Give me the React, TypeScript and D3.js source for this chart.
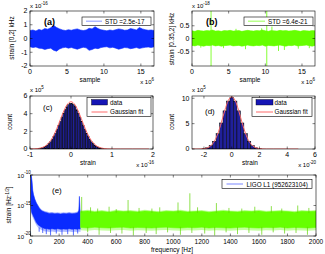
import React from 'react';
import * as d3 from 'd3';

const FONT = 'Liberation Sans, Arial, Helvetica, sans-serif';
const BLUE = '#0a2bff';
const GREEN = '#66ff00';
const RED = '#ff6a6a';
const BAR = '#20209a';

// ---------- (a) strain [0,2] kHz, x in 1e6 samples, y in 1e-16
const A_POS = d3.range(0, 16.81, 0.4);
const A_UPPER = [0.58,0.62,0.55,0.66,0.6,0.72,0.68,0.78,0.95,0.8,0.7,0.62,0.58,0.64,0.6,0.66,0.7,0.62,0.58,0.62,0.74,0.7,0.86,0.72,0.64,0.6,0.56,0.62,0.58,0.64,0.7,0.66,0.6,0.62,0.72,0.68,0.62,0.8,0.7,0.64,0.6,0.62,0.58];
const A_LOWER = [-0.6,-0.66,-0.62,-0.7,-0.72,-0.8,-0.74,-0.7,-0.86,-0.92,-0.76,-0.68,-0.64,-0.7,-0.66,-0.72,-0.78,-0.7,-0.64,-0.68,-0.86,-0.8,-0.7,-0.74,-0.66,-0.62,-0.6,-0.68,-0.64,-0.7,-0.78,-0.72,-0.66,-0.68,-0.74,-0.7,-0.66,-0.72,-0.68,-0.64,-0.62,-0.66,-0.6];
const A_XTICKS = [0, 5, 10, 15];
const A_YTICKS = [-2, -1, 0, 1, 2];

// ---------- (b) strain [0.35,2] kHz, y in 1e-18
const B_POS = d3.range(0, 16.81, 0.4);
const B_UPPER = [0.3,0.28,0.32,0.3,0.29,0.31,0.3,0.33,0.29,0.3,0.28,0.31,0.3,0.32,0.29,0.3,0.31,0.28,0.3,0.32,0.3,0.29,0.31,0.3,0.33,0.3,0.28,0.31,0.3,0.29,0.32,0.3,0.31,0.29,0.3,0.32,0.3,0.28,0.31,0.3,0.29,0.31,0.3];
const B_LOWER = [-0.27,-0.29,-0.26,-0.28,-0.3,-0.27,-0.28,-0.26,-0.29,-0.27,-0.3,-0.28,-0.27,-0.26,-0.29,-0.28,-0.27,-0.3,-0.28,-0.26,-0.28,-0.29,-0.27,-0.28,-0.26,-0.3,-0.27,-0.28,-0.29,-0.27,-0.26,-0.28,-0.3,-0.27,-0.28,-0.26,-0.29,-0.28,-0.27,-0.26,-0.28,-0.3,-0.27];
const B_SPIKE_X = [2.6, 10.2, 10.9, 11.8, 7.3, 4.3, 14.5, 9.5, 1.2, 6.0, 16.0, 12.6];
const B_SPIKE_LO = [-1.2, -1.2, -0.1, -0.49, -0.42, -0.38, -0.4, 0, -0.36, 0, -0.38, -0.45];
const B_SPIKE_HI = [1.2, 1.2, 0.47, 0.1, 0.1, 0, 0, 0.4, 0, 0.38, 0, 0.05];
const B_XTICKS = [0, 5, 10, 15];
const B_YTICKS = [-0.5, 0, 0.5];

// ---------- (c) histogram, x in 1e-16, counts in 1e5
const C_CENTERS = d3.range(-0.78, 0.79, 0.04);
const C_COUNTS = [0.06,0.09,0.14,0.21,0.3,0.43,0.6,0.81,1.08,1.4,1.77,2.19,2.65,3.12,3.6,4.05,4.46,4.78,5.01,5.13,5.14,5.02,4.79,4.44,4.05,3.6,3.12,2.64,2.19,1.77,1.4,1.08,0.81,0.6,0.43,0.3,0.21,0.14,0.09,0.06];
const C_FIT_X = [-1,-0.9,-0.8,-0.7,-0.6,-0.5,-0.4,-0.3,-0.2,-0.1,0,0.1,0.2,0.3,0.4,0.5,0.6,0.7,0.8,0.9,1,1.2,1.5,1.9];
const C_FIT_Y = [0.005,0.02,0.06,0.17,0.43,0.93,1.75,2.85,4.04,4.99,5.35,4.99,4.04,2.85,1.75,0.93,0.43,0.17,0.06,0.02,0.005,0,0,0];
const C_XTICKS = [-1, 0, 1, 2];
const C_YTICKS = [0, 2, 4, 6];

// ---------- (d) histogram, x in 1e-20, counts in 1e5
const D_CENTERS = d3.range(-2, 2.01, 0.25);
const D_COUNTS = [0.08,0.24,0.65,1.52,3.01,5.13,7.52,9.45,10.2,9.45,7.52,5.13,3.01,1.52,0.65,0.24,0.08];
const D_FIT_X = [-2.85,-2.5,-2.25,-2,-1.75,-1.5,-1.25,-1,-0.75,-0.5,-0.25,0,0.25,0.5,0.75,1,1.25,1.5,1.75,2,2.25,2.5,3,4,4.8];
const D_FIT_Y = [0,0,0.02,0.08,0.24,0.66,1.53,3.04,5.18,7.59,9.55,10.3,9.55,7.59,5.18,3.04,1.53,0.66,0.24,0.08,0.02,0,0,0,0];
const D_XTICKS = [-2, 0, 2, 4, 6];
const D_YTICKS = [0, 5, 10];

// ---------- (e) spectrum, log10 of strain per sqrt(Hz)
const E_BLUE_F = [0,3,6,10,15,20,25,30,40,50,60,70,80,90,100,115,130,150,170,190,210,230,250,270,290,310,330,338,342,346,350];
const E_BLUE_UP = [-10,-10,-10.3,-11,-12.5,-13.2,-13.6,-14,-14.6,-15,-15.4,-15.7,-15.9,-16.0,-16.1,-16.2,-16.3,-16.25,-16.35,-16.3,-16.4,-16.3,-16.35,-16.25,-16.35,-16.3,-16.2,-15.8,-13.5,-15.6,-16.3];
const E_BLUE_LO = [-14.5,-15.5,-16,-16.3,-16.5,-16.8,-17,-17.3,-17.8,-18.1,-18.3,-18.5,-18.6,-18.7,-18.8,-18.8,-18.9,-18.8,-18.9,-18.8,-18.9,-18.85,-18.9,-18.8,-18.9,-18.85,-18.9,-18.8,-18.9,-18.8,-18.9];
const E_BLUE_DOWN_F = [60,85,110,140,180,220,260,300,330];
const E_BLUE_DOWN = [-19.3,-19.5,-19.7,-19.9,-19.6,-19.8,-19.7,-19.9,-19.6];
const E_GREEN_F = d3.range(350, 2001, 50);
const E_GREEN_UP = [-16.0,-15.9,-16.05,-15.95,-16.1,-15.9,-16.0,-15.95,-16.05,-15.9,-16.0,-16.1,-15.95,-16.0,-15.9,-16.05,-16.0,-15.95,-16.1,-16.0,-15.9,-16.0,-16.05,-15.95,-16.0,-15.9,-16.05,-16.0,-15.95,-16.0,-16.1,-15.95,-16.0,-15.95];
const E_GREEN_LO = [-18.6,-18.7,-18.55,-18.65,-18.7,-18.6,-18.55,-18.7,-18.6,-18.65,-18.7,-18.6,-18.55,-18.65,-18.7,-18.6,-18.65,-18.55,-18.7,-18.6,-18.65,-18.7,-18.6,-18.55,-18.65,-18.7,-18.6,-18.65,-18.55,-18.7,-18.6,-18.65,-18.7,-18.6];
const E_GREEN_SPIKE_F = [358,420,470,550,600,683,760,850,905,1033,1116,1170,1302,1390,1480,1571,1687,1760,1872,1950];
const E_GREEN_SPIKE = [-13.6,-15.3,-15.5,-15.2,-15.6,-14.1,-15.4,-15.5,-15.3,-14.5,-13.0,-15.3,-14.6,-15.4,-15.5,-15.2,-15.1,-15.5,-15.0,-15.4];
const E_GREEN_DOWN_F = [400,480,560,640,720,810,880,960,1050,1130,1220,1290,1370,1450,1530,1620,1700,1780,1860,1940];
const E_GREEN_DOWN = [-19.4,-19.8,-19.5,-19.6,-19.9,-19.5,-19.7,-19.4,-19.8,-19.5,-19.6,-19.9,-19.4,-19.7,-19.5,-19.8,-19.4,-19.6,-19.5,-19.8];
const E_XTICKS = [0,200,400,600,800,1000,1200,1400,1600,1800,2000];
const E_YTICKS = [-20, -15, -10];

const TL = 2.5; // tick length

function Frame({ x0, x1, y0, y1 }: any) {
  return <rect x={x0} y={y0} width={x1 - x0} height={y1 - y0} fill="none" stroke="#000" strokeWidth={0.6} />;
}

function XAxis({ sx, ticks, y0, y1, fmt, fs = 7 }: any) {
  return (
    <g>
      {ticks.map((t: number) => (
        <g key={t}>
          <line x1={sx(t)} x2={sx(t)} y1={y1} y2={y1 - TL} stroke="#000" strokeWidth={0.5} />
          <line x1={sx(t)} x2={sx(t)} y1={y0} y2={y0 + TL} stroke="#000" strokeWidth={0.5} />
          <text x={sx(t)} y={y1 + 8} fontSize={fs} textAnchor="middle" fontFamily={FONT}>{fmt ? fmt(t) : String(t)}</text>
        </g>
      ))}
    </g>
  );
}

function YAxis({ sy, ticks, x0, x1, fmt, fs = 7 }: any) {
  return (
    <g>
      {ticks.map((t: number) => (
        <g key={t}>
          <line x1={x0} x2={x0 + TL} y1={sy(t)} y2={sy(t)} stroke="#000" strokeWidth={0.5} />
          <line x1={x1} x2={x1 - TL} y1={sy(t)} y2={sy(t)} stroke="#000" strokeWidth={0.5} />
          <text x={x0 - 2.5} y={sy(t) + 2.4} fontSize={fs} textAnchor="end" fontFamily={FONT}>{fmt ? fmt(t) : String(t)}</text>
        </g>
      ))}
    </g>
  );
}

function Exp({ x, y, e, anchor = 'start' }: any) {
  return (
    <text x={x} y={y} fontSize={6} fontFamily={FONT} textAnchor={anchor}>
      x 10<tspan fontSize={4.5} dy={-2.8}>{e}</tspan>
    </text>
  );
}

function YLabel({ x, y, children }: any) {
  return (
    <text transform={`translate(${x},${y}) rotate(-90)`} fontSize={6.5} textAnchor="middle" fontFamily={FONT}>{children}</text>
  );
}

export default function App() {
  // (a)
  const xA = d3.scaleLinear().domain([0, 16.777]).range([30, 154]);
  const yA = d3.scaleLinear().domain([-2, 2]).range([66, 11]);
  const areaA = d3.area<number>().x((_, i) => xA(A_POS[i])).y0((_, i) => yA(A_LOWER[i])).y1((_, i) => yA(A_UPPER[i]));

  // (b)
  const xB = d3.scaleLinear().domain([0, 16.777]).range([192, 315]);
  const yB = d3.scaleLinear().domain([-1.08, 1.08]).range([66, 11]);
  const areaB = d3.area<number>().x((_, i) => xB(B_POS[i])).y0((_, i) => yB(B_LOWER[i])).y1((_, i) => yB(B_UPPER[i]));

  // (c)
  const xC = d3.scaleLinear().domain([-1, 2]).range([30, 153]);
  const yC = d3.scaleLinear().domain([0, 6]).range([149, 96]);
  const lineC = d3.line<number>().x((_, i) => xC(C_FIT_X[i])).y((_, i) => yC(C_FIT_Y[i])).curve(d3.curveMonotoneX);
  const wC = xC(0.04) - xC(0);

  // (d)
  const xD = d3.scaleLinear().domain([-2.86, 6]).range([192, 315]);
  const yD = d3.scaleLinear().domain([0, 10.45]).range([149, 96]);
  const lineD = d3.line<number>().x((_, i) => xD(D_FIT_X[i])).y((_, i) => yD(D_FIT_Y[i])).curve(d3.curveMonotoneX);
  const wD = xD(0.25) - xD(0);

  // (e)
  const xE = d3.scaleLinear().domain([0, 2000]).range([30.6, 316]);
  const yE = d3.scaleLog().domain([1e-20, 1e-10]).range([236, 175]);
  const p = (e: number) => Math.pow(10, e);
  const areaEB = d3.area<number>().x((_, i) => xE(E_BLUE_F[i])).y0((_, i) => yE(p(E_BLUE_LO[i]))).y1((_, i) => yE(p(E_BLUE_UP[i])));
  const areaEG = d3.area<number>().x((_, i) => xE(E_GREEN_F[i])).y0((_, i) => yE(p(E_GREEN_LO[i]))).y1((_, i) => yE(p(E_GREEN_UP[i])));
  const areaEGf = d3.area<number>().x((_, i) => xE(E_GREEN_F[i])).y0((_, i) => yE(p(E_GREEN_LO[i] - 0.45))).y1((_, i) => yE(p(E_GREEN_UP[i] + 0.2)));
  const areaEBf = d3.area<number>().x((_, i) => xE(E_BLUE_F[i])).y0((_, i) => yE(p(E_BLUE_LO[i] - 0.45))).y1((_, i) => yE(p(E_BLUE_UP[i] + 0.2)));

  return (
    <svg width={325} height={254} style={{ position: 'absolute', left: 0, top: 0, background: '#fff' }} fontFamily={FONT}>
      <defs>
        <clipPath id="cA"><rect x={30} y={11} width={124} height={55} /></clipPath>
        <clipPath id="cB"><rect x={192} y={11} width={123} height={55} /></clipPath>
        <clipPath id="cC"><rect x={30} y={96} width={123} height={53} /></clipPath>
        <clipPath id="cD"><rect x={192} y={96} width={123} height={53} /></clipPath>
        <clipPath id="cE"><rect x={30.6} y={175} width={285.4} height={61} /></clipPath>
      </defs>
      <rect x={0} y={0} width={325} height={254} fill="#fff" />

      {/* (a) */}
      <g clipPath="url(#cA)">
        <path d={areaA(A_POS) || ''} fill={BLUE} stroke={BLUE} strokeWidth={0.6} />
      </g>
      <Frame x0={30} x1={154} y0={11} y1={66} />
      <XAxis sx={xA} ticks={A_XTICKS} y0={11} y1={66} />
      <YAxis sy={yA} ticks={A_YTICKS} x0={30} x1={154} />
      <Exp x={30} y={8} e="-16" />
      <Exp x={154} y={84} e="6" anchor="end" />
      <text x={90} y={82} fontSize={6.5} textAnchor="middle">sample</text>
      <YLabel x={14} y={38}>strain [0,2] kHz</YLabel>
      <text x={44} y={25} fontSize={9} fontWeight="bold">(a)</text>
      <rect x={82} y={17} width={69} height={8.5} fill="#fff" stroke="#000" strokeWidth={0.6} />
      <line x1={86} x2={102} y1={21.2} y2={21.2} stroke="#9aa8ff" strokeWidth={1.2} />
      <text x={105} y={23.6} fontSize={6.3}>STD =2.5e-17</text>

      {/* (b) */}
      <g clipPath="url(#cB)">
        <path d={areaB(B_POS) || ''} fill={GREEN} stroke={GREEN} strokeWidth={0.6} />
        {B_SPIKE_X.map((s, i) => (
          <line key={i} x1={xB(s)} x2={xB(s)} y1={yB(B_SPIKE_LO[i])} y2={yB(B_SPIKE_HI[i])} stroke={GREEN} strokeWidth={0.8} />
        ))}
      </g>
      <Frame x0={192} x1={315} y0={11} y1={66} />
      <XAxis sx={xB} ticks={B_XTICKS} y0={11} y1={66} />
      <YAxis sy={yB} ticks={B_YTICKS} x0={192} x1={315} />
      <Exp x={192} y={8} e="-18" />
      <Exp x={315} y={84} e="6" anchor="end" />
      <text x={250} y={82} fontSize={6.5} textAnchor="middle">sample</text>
      <YLabel x={174} y={39}>strain [0.35,2] kHz</YLabel>
      <text x={206} y={25} fontSize={9} fontWeight="bold">(b)</text>
      <rect x={244} y={17} width={69} height={8.5} fill="#fff" stroke="#000" strokeWidth={0.6} />
      <line x1={248} x2={265} y1={21.2} y2={21.2} stroke="#a8ff70" strokeWidth={1.2} />
      <text x={268} y={23.6} fontSize={6.3}>STD =6.4e-21</text>

      {/* (c) */}
      <g clipPath="url(#cC)">
        {C_CENTERS.map((c, i) => (
          <rect key={i} x={xC(c) - wC / 2} y={yC(C_COUNTS[i])} width={wC} height={yC(0) - yC(C_COUNTS[i])} fill={BAR} stroke="#000" strokeWidth={0.5} />
        ))}
        <path d={lineC(C_FIT_X) || ''} fill="none" stroke={RED} strokeWidth={1} />
      </g>
      <Frame x0={30} x1={153} y0={96} y1={149} />
      <XAxis sx={xC} ticks={C_XTICKS} y0={96} y1={149} />
      <YAxis sy={yC} ticks={C_YTICKS} x0={30} x1={153} />
      <Exp x={30} y={92} e="5" />
      <Exp x={154} y={167} e="-16" anchor="end" />
      <text x={88} y={165} fontSize={6.5} textAnchor="middle">strain</text>
      <YLabel x={12} y={122}>count</YLabel>
      <text x={43} y={110} fontSize={8}>(c)</text>
      <rect x={87} y={97.5} width={64} height={19} fill="#fff" stroke="#000" strokeWidth={0.6} />
      <rect x={91.5} y={99.5} width={16} height={5.5} fill="#1515b5" stroke="#000" strokeWidth={0.4} />
      <text x={110} y={104.5} fontSize={6.3}>data</text>
      <line x1={91.5} x2={107.5} y1={112} y2={112} stroke={RED} strokeWidth={1} />
      <text x={110} y={114.3} fontSize={6.3}>Gaussian fit</text>

      {/* (d) */}
      <g clipPath="url(#cD)">
        {D_CENTERS.map((c, i) => (
          <rect key={i} x={xD(c) - wD / 2} y={yD(D_COUNTS[i])} width={wD} height={yD(0) - yD(D_COUNTS[i])} fill={BAR} stroke="#000" strokeWidth={0.5} />
        ))}
        <path d={lineD(D_FIT_X) || ''} fill="none" stroke={RED} strokeWidth={1} />
      </g>
      <Frame x0={192} x1={315} y0={96} y1={149} />
      <XAxis sx={xD} ticks={D_XTICKS} y0={96} y1={149} />
      <YAxis sy={yD} ticks={D_YTICKS} x0={192} x1={315} />
      <Exp x={192} y={92} e="5" />
      <Exp x={316} y={167} e="-20" anchor="end" />
      <text x={250} y={165} fontSize={6.5} textAnchor="middle">strain</text>
      <YLabel x={174} y={122}>count</YLabel>
      <text x={205} y={114} fontSize={8}>(d)</text>
      <rect x={252} y={97.5} width={60} height={19} fill="#fff" stroke="#000" strokeWidth={0.6} />
      <rect x={256} y={99.5} width={17} height={5.5} fill="#1515b5" stroke="#000" strokeWidth={0.4} />
      <text x={274.5} y={104.5} fontSize={6.3}>data</text>
      <line x1={256} x2={273} y1={112} y2={112} stroke={RED} strokeWidth={1} />
      <text x={274.5} y={114.3} fontSize={6.3}>Gaussian fit</text>

      {/* (e) */}
      <g clipPath="url(#cE)">
        <path d={areaEBf(E_BLUE_F) || ''} fill="#8fa0ff" opacity={0.7} />
        <path d={areaEB(E_BLUE_F) || ''} fill={BLUE} stroke={BLUE} strokeWidth={0.5} />
        {E_BLUE_DOWN_F.map((f, i) => (
          <line key={'bd' + i} x1={xE(f)} x2={xE(f)} y1={yE(p(-18.6))} y2={yE(p(E_BLUE_DOWN[i]))} stroke={BLUE} strokeWidth={0.7} />
        ))}
        <path d={areaEGf(E_GREEN_F) || ''} fill="#b5ff88" opacity={0.8} />
        <path d={areaEG(E_GREEN_F) || ''} fill={GREEN} stroke={GREEN} strokeWidth={0.5} />
        {E_GREEN_SPIKE_F.map((f, i) => (
          <line key={'gs' + i} x1={xE(f)} x2={xE(f)} y1={yE(p(-16.2))} y2={yE(p(E_GREEN_SPIKE[i]))} stroke="#5ed400" strokeWidth={0.7} />
        ))}
        {E_GREEN_DOWN_F.map((f, i) => (
          <line key={'gd' + i} x1={xE(f)} x2={xE(f)} y1={yE(p(-18.5))} y2={yE(p(E_GREEN_DOWN[i]))} stroke="#5ed400" strokeWidth={0.7} />
        ))}
      </g>
      <Frame x0={30.6} x1={316} y0={175} y1={236} />
      <XAxis sx={xE} ticks={E_XTICKS} y0={175} y1={236} fs={6.5} />
      {E_YTICKS.map((t) => (
        <g key={t}>
          <line x1={30.6} x2={30.6 + TL} y1={yE(p(t))} y2={yE(p(t))} stroke="#000" strokeWidth={0.5} />
          <line x1={316} x2={316 - TL} y1={yE(p(t))} y2={yE(p(t))} stroke="#000" strokeWidth={0.5} />
          <text x={24} y={yE(p(t)) + 2.6} fontSize={6} textAnchor="end">10</text>
          <text x={24.3} y={yE(p(t)) - 0.8} fontSize={4.5} textAnchor="start">{t}</text>
        </g>
      ))}
      <text x={172} y={252} fontSize={6.5} textAnchor="middle">frequency [Hz]</text>
      <text transform="translate(11,205) rotate(-90)" fontSize={6.5} textAnchor="middle">
        strain [Hz<tspan fontSize={4.5} dy={-2.5}>-1/2</tspan><tspan dy={2.5}>]</tspan>
      </text>
      <text x={52} y={193} fontSize={8}>(e)</text>
      <rect x={222} y={179.5} width={90} height={9} fill="#fff" stroke="#000" strokeWidth={0.6} />
      <line x1={226.5} x2={243} y1={184} y2={184} stroke="#8f9cff" strokeWidth={1.2} />
      <text x={246.5} y={186.5} fontSize={6.3}>LIGO L1 (952623104)</text>
    </svg>
  );
}
